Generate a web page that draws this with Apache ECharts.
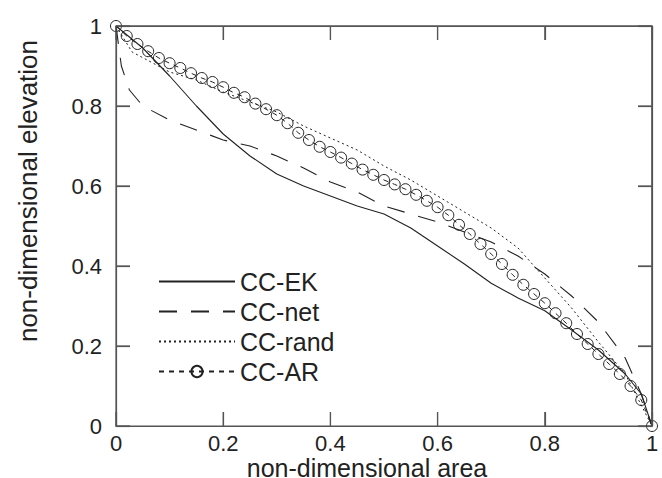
<!DOCTYPE html>
<html>
<head>
<meta charset="utf-8">
<script src="https://cdn.jsdelivr.net/npm/echarts@6/dist/echarts.min.js"></script>
<style>
  html, body { margin: 0; padding: 0; background: #fff; }
  #chart { width: 662px; height: 478px; }
</style>
</head>
<body>
<div id="chart"></div>
<script>
// hypsometric curves, non-dimensional
var ekX = [0, 0.05, 0.1, 0.15, 0.2, 0.25, 0.3, 0.35, 0.4, 0.45, 0.5, 0.55, 0.6, 0.65, 0.7, 0.75, 0.8, 0.85, 0.9, 0.95, 0.98, 1];
var ekY = [1, 0.945, 0.875, 0.8, 0.73, 0.675, 0.63, 0.6, 0.575, 0.55, 0.53, 0.495, 0.45, 0.405, 0.357, 0.32, 0.288, 0.24, 0.19, 0.13, 0.08, 0];

var netX = [0, 0.01, 0.025, 0.05, 0.1, 0.15, 0.2, 0.25, 0.3, 0.35, 0.4, 0.45, 0.5, 0.55, 0.6, 0.65, 0.7, 0.75, 0.8, 0.85, 0.9, 0.95, 0.98, 1];
var netY = [1, 0.9, 0.84, 0.8, 0.765, 0.74, 0.715, 0.7, 0.675, 0.645, 0.61, 0.585, 0.55, 0.53, 0.51, 0.485, 0.46, 0.425, 0.38, 0.325, 0.26, 0.17, 0.08, 0];

var randX = [0, 0.03, 0.1, 0.15, 0.2, 0.25, 0.3, 0.35, 0.4, 0.45, 0.5, 0.55, 0.6, 0.65, 0.7, 0.75, 0.8, 0.85, 0.9, 0.95, 1];
var randY = [1, 0.935, 0.885, 0.865, 0.835, 0.81, 0.785, 0.75, 0.72, 0.69, 0.65, 0.615, 0.575, 0.535, 0.495, 0.445, 0.37, 0.295, 0.21, 0.13, 0];

var arX = [0, 0.02, 0.04, 0.06, 0.08, 0.1, 0.12, 0.14, 0.16, 0.18, 0.2, 0.22, 0.24, 0.26, 0.28, 0.3, 0.32, 0.34, 0.36, 0.38, 0.4,
  0.42, 0.44, 0.46, 0.48, 0.5, 0.52, 0.54, 0.56, 0.58, 0.6, 0.62, 0.64, 0.66, 0.68, 0.7, 0.72, 0.74, 0.76, 0.78, 0.8,
  0.82, 0.84, 0.86, 0.88, 0.9, 0.92, 0.94, 0.96, 0.98, 1];
var arY = [1, 0.975, 0.955, 0.937, 0.92, 0.907, 0.895, 0.882, 0.87, 0.86, 0.847, 0.833, 0.822, 0.806, 0.792, 0.777, 0.757, 0.733, 0.715, 0.698, 0.685,
  0.671, 0.656, 0.641, 0.628, 0.615, 0.604, 0.592, 0.578, 0.563, 0.547, 0.527, 0.503, 0.48, 0.455, 0.43, 0.405, 0.378, 0.353, 0.33, 0.307,
  0.282, 0.257, 0.23, 0.205, 0.18, 0.155, 0.13, 0.1, 0.065, 0];

var ticks = [0, 0.2, 0.4, 0.6, 0.8, 1];

function pairs(xs, ys) {
  return xs.map(function (x, i) { return [x, ys[i]]; });
}

var FONT = '"Liberation Sans", Arial, sans-serif';
var INK = '#222';
var AXIS = '#555';
var TICK_LEN = 14;

// svg renderer
var myChart = echarts.init(document.getElementById('chart'), null, { renderer: 'svg' });

function boxAxis(pos, showLabel, margin) {
  return {
    show: true,
    type: 'value',
    position: pos,
    min: ticks[0],
    max: ticks[ticks.length - 1],
    interval: 0.2,
    axisLine: { show: true, onZero: false, lineStyle: { color: AXIS, width: 1.2 } },
    axisTick: { show: true, inside: true, length: TICK_LEN, lineStyle: { color: AXIS, width: 1.2 } },
    axisLabel: { show: showLabel, color: INK, fontFamily: FONT, fontSize: 22, margin: margin },
    splitLine: { show: false }
  };
}

var hideDot = { opacity: 0 };

myChart.setOption({
  animation: false,
  grid: { left: 116, right: 10, top: 26, bottom: 52, outerBoundsMode: 'none',
    show: true, borderColor: AXIS, borderWidth: 1.2, backgroundColor: 'transparent' },
  xAxis: [boxAxis('bottom', true, 6), boxAxis('top', false, 8)],
  yAxis: [boxAxis('left', true, 14), boxAxis('right', false, 8)],
  legend: {
    orient: 'vertical',
    left: 158,
    top: 269,
    padding: 0,
    itemWidth: 76,
    itemHeight: 14,
    itemGap: 5,
    textStyle: { color: INK, fontFamily: FONT, fontSize: 25, lineHeight: 25 },
    data: [
      { name: 'CC-EK', itemStyle: hideDot },
      { name: 'CC-net', itemStyle: hideDot },
      { name: 'CC-rand', itemStyle: hideDot },
      { name: 'CC-AR' }
    ]
  },
  series: [
    {
      name: 'CC-EK', type: 'line', symbol: 'none',
      data: pairs(ekX, ekY),
      lineStyle: { color: INK, width: 1.1, type: 'solid' }
    },
    {
      name: 'CC-net', type: 'line', symbol: 'none',
      data: pairs(netX, netY),
      lineStyle: { color: INK, width: 1.1, type: [18, 14] }
    },
    {
      name: 'CC-rand', type: 'line', symbol: 'none',
      data: pairs(randX, randY),
      lineStyle: { color: INK, width: 1, type: [2, 3] }
    },
    {
      name: 'CC-AR', type: 'line', symbol: 'circle', symbolSize: 11,
      data: pairs(arX, arY),
      lineStyle: { color: INK, width: 1, type: [5, 5] },
      itemStyle: { color: 'rgba(0,0,0,0)', borderColor: INK, borderWidth: 1 }
    },
    // empty series tied to the mirror axes
    { name: 'box', type: 'line', xAxisIndex: 1, yAxisIndex: 1, data: [], symbol: 'none' }
  ]
});

// backup inward ticks, positioned through the axes' own scales
var gfx = [];
var xLo = myChart.convertToPixel({ xAxisIndex: 0 }, ticks[0]);
var xHi = myChart.convertToPixel({ xAxisIndex: 0 }, ticks[ticks.length - 1]);
var yLo = myChart.convertToPixel({ yAxisIndex: 0 }, ticks[0]);
var yHi = myChart.convertToPixel({ yAxisIndex: 0 }, ticks[ticks.length - 1]);
function tickLine(x1, y1, x2, y2) {
  gfx.push({ type: 'line', silent: true, z: 50,
    shape: { x1: x1, y1: y1, x2: x2, y2: y2 },
    style: { stroke: AXIS, lineWidth: 1.2, fill: null } });
}
if (isFinite(xLo) && isFinite(yLo)) {
  ticks.forEach(function (t) {
    var px = myChart.convertToPixel({ xAxisIndex: 0 }, t);
    var py = myChart.convertToPixel({ yAxisIndex: 0 }, t);
    tickLine(px, yLo, px, yLo - TICK_LEN);
    tickLine(px, yHi, px, yHi + TICK_LEN);
    tickLine(xLo, py, xLo + TICK_LEN, py);
    tickLine(xHi, py, xHi - TICK_LEN, py);
  });
  // frame
  tickLine(xLo, yHi, xHi, yHi);
  tickLine(xHi, yHi, xHi, yLo);
}

gfx.push({
  type: 'text', x: 367, y: 468,
  style: { text: 'non-dimensional area', fill: INK, font: '25px ' + FONT, align: 'center', verticalAlign: 'middle' }
});
gfx.push({
  type: 'text', x: 28, y: 191, rotation: Math.PI / 2,
  style: { text: 'non-dimensional elevation', fill: INK, font: '26px ' + FONT, align: 'center', verticalAlign: 'middle' }
});

myChart.setOption({ graphic: gfx });
</script>
</body>
</html>
